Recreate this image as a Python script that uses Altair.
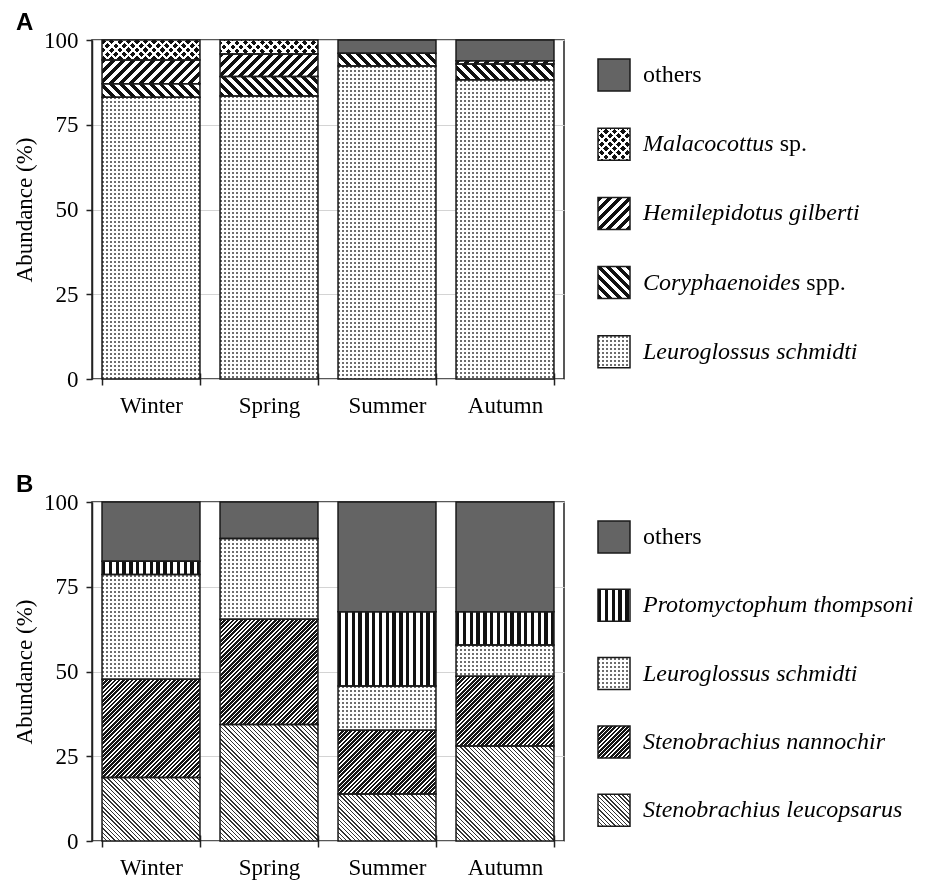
import math
import altair as alt

SERIF = "Liberation Serif"
SANS = "Liberation Sans"

SEASONS = ["Winter", "Spring", "Summer", "Autumn"]

# Panel A – species listed from the bottom of each stack upwards (% abundance)
A_SPECIES = ["Leuroglossus schmidti", "Coryphaenoides spp.", "Hemilepidotus gilberti",
             "Malacocottus sp.", "others"]
A_LEUROGLOSSUS = [83.1, 83.5, 92.3, 88.3]
A_CORYPHAENOIDES = [4.0, 5.7, 3.8, 4.6]
A_HEMILEPIDOTUS = [7.0, 6.7, 0.0, 1.0]
A_MALACOCOTTUS = [5.9, 4.1, 0.0, 0.0]
A_OTHERS = [0.0, 0.0, 3.9, 6.1]
A_VALUES = [A_LEUROGLOSSUS, A_CORYPHAENOIDES, A_HEMILEPIDOTUS, A_MALACOCOTTUS, A_OTHERS]

# Panel B
B_SPECIES = ["Stenobrachius leucopsarus", "Stenobrachius nannochir", "Leuroglossus schmidti",
             "Protomyctophum thompsoni", "others"]
B_LEUCOPSARUS = [18.7, 34.4, 13.9, 28.0]
B_NANNOCHIR = [29.0, 31.0, 18.8, 20.6]
B_LEUROGLOSSUS = [30.9, 23.8, 13.0, 9.2]
B_PROTOMYCTOPHUM = [3.9, 0.0, 21.9, 9.8]
B_OTHERS = [17.5, 10.8, 32.4, 32.4]
B_VALUES = [B_LEUCOPSARUS, B_NANNOCHIR, B_LEUROGLOSSUS, B_PROTOMYCTOPHUM, B_OTHERS]

# geometry of each bar panel
PLOT_W, PLOT_H = 472, 339
PAD_INNER, PAD_OUTER = 0.17, 0.085
STEP = PLOT_W / (len(SEASONS) - PAD_INNER + 2 * PAD_OUTER)
BAR_W = STEP * (1 - PAD_INNER)
PX_PER_PCT = PLOT_H / 100.0
SWATCH = 32
LEGEND_W = 330
TEXT_X = 45

INK = "#111111"
EDGE = "#1a1a1a"

# hatch recipes: a base paint and an optional second paint blended with "lighten"
# (two crossing line sets blended this way leave dots where they intersect)
STYLES = {
    "others": [("solid", "#646464")],
    "Malacocottus sp.": [("fwd", 6.0, 3.8, INK), ("back", 6.0, 3.8, INK)],
    "Hemilepidotus gilberti": [("fwd", 7.0, 3.5, INK)],
    "Coryphaenoides spp.": [("back", 7.0, 3.5, INK)],
    "Leuroglossus schmidti": [("v", 4.0, 2.0, "#6e6e6e"), ("h", 4.0, 2.0, "#6e6e6e")],
    "Protomyctophum thompsoni": [("v", 6.8, 3.4, INK)],
    "Stenobrachius nannochir": [("fwd", 3.0, 1.9, "#161616")],
    "Stenobrachius leucopsarus": [("back", 3.0, 1.0, "#333333")],
}


def paint(spec, w, h):
    """Linear-gradient stripes sized for a w x h pixel box."""
    if spec[0] == "solid":
        return spec[1]
    kind, period, ink, color = spec
    if kind == "v":
        x1, y1, x2, y2, span = 0, 0, 1, 0, w
    elif kind == "h":
        x1, y1, x2, y2, span = 0, 0, 0, 1, h
    else:
        c = (w + h) / (w * w + h * h)
        span = (w + h) / math.sqrt(2)
        if kind == "fwd":
            x1, y1, x2, y2 = 0, 0, c * w, c * h
        else:
            x1, y1, x2, y2 = 0, 1, c * w, 1 - c * h
    stops = []
    k = 0
    while k * period < span:
        a = k * period / span
        b = min((k * period + ink) / span, 1.0)
        e = min((k + 1) * period / span, 1.0)
        stops.append({"offset": round(a, 5), "color": color})
        stops.append({"offset": round(b, 5), "color": color})
        if b < 1.0:
            stops.append({"offset": round(b, 5), "color": "#ffffff"})
            stops.append({"offset": round(e, 5), "color": "#ffffff"})
        k += 1
    return {"gradient": "linear", "x1": round(x1, 5), "y1": round(y1, 5),
            "x2": round(x2, 5), "y2": round(y2, 5), "stops": stops}


def paints(species, w, h):
    recipe = STYLES[species]
    first = paint(recipe[0], w, h)
    second = paint(recipe[1], w, h) if len(recipe) > 1 else None
    return first, second


ITALIC_W = {"a": 500, "b": 500, "c": 444, "d": 500, "e": 444, "f": 278, "g": 500, "h": 500,
            "i": 278, "l": 278, "m": 722, "n": 500, "o": 500, "p": 500, "r": 389, "s": 389,
            "t": 278, "u": 500, "y": 444, " ": 250, "M": 833, "C": 667}


def italic_width(s, size):
    return sum(ITALIC_W.get(ch, 500) for ch in s) / 1000.0 * size


def bar_panel(letter, species, values):
    rows = []
    for rank, (sp, series) in enumerate(zip(species, values)):
        for season, v in zip(SEASONS, series):
            if v <= 0:
                continue
            p1, p2 = paints(sp, BAR_W, v * PX_PER_PCT)
            rows.append({"season": season, "species": sp, "rank": rank, "value": v,
                         "paint": p1, "paint2": p2})

    base = alt.Chart(alt.Data(values=rows)).transform_stack(
        stack="value", groupby=["season"], sort=[alt.SortField("rank", order="ascending")],
        as_=["v0", "v1"])

    x = alt.X("season:N", sort=SEASONS, title=None,
              scale=alt.Scale(paddingInner=PAD_INNER, paddingOuter=PAD_OUTER),
              axis=alt.Axis(labelAngle=0, tickBand="extent", domain=False, offset=-6,
                            tickSize=12, tickWidth=1.5, labelPadding=9, labelFontSize=23))
    y = alt.Y("v0:Q", title="Abundance (%)",
              scale=alt.Scale(domain=[0, 100], nice=False),
              axis=alt.Axis(values=[0, 25, 50, 75, 100], tickSize=6, tickWidth=1.5,
                            domainWidth=1.5, labelPadding=8, labelFontSize=23,
                            titleFontSize=23, titleFontWeight="normal", titlePadding=7,
                            grid=True, gridColor="#d4d4d4", gridWidth=1))
    y2 = alt.Y2("v1:Q")

    fills = base.mark_bar().encode(x=x, y=y, y2=y2,
                                   fill=alt.Fill("paint:N", scale=None, legend=None))
    overlay = base.transform_filter("isValid(datum.paint2)").mark_bar(blend="lighten").encode(
        x=x, y=y, y2=y2, fill=alt.Fill("paint2:N", scale=None, legend=None))
    outline = base.mark_bar(fill="transparent", stroke=EDGE, strokeWidth=1.5).encode(
        x=x, y=y, y2=y2)
    tag = alt.Chart(alt.Data(values=[{"tag": letter}])).mark_text(
        align="left", baseline="alphabetic", font=SANS, fontSize=24, fontWeight="bold",
        color="black").encode(text="tag:N", x=alt.value(-76), y=alt.value(-10))

    return alt.layer(fills, overlay, outline, tag).properties(
        width=PLOT_W, height=PLOT_H,
        view=alt.ViewBackground(stroke="#222222", strokeWidth=1.5))


def band_params(first_center, step, n=5):
    pad_inner = 1 - SWATCH / step
    pad_outer = (PLOT_H / step - n + pad_inner) / 2
    free = PLOT_H - step * (n - pad_inner)
    align = (first_center - SWATCH / 2) / free
    return pad_inner, pad_outer, align


def legend_panel(order, first_center, step):
    pi, po, al = band_params(first_center, step)
    rows = []
    for key in order:
        p1, p2 = paints(key, SWATCH, SWATCH)
        if key == "others":
            ital, rom = "", "others"
        elif key.endswith(" sp.") or key.endswith(" spp."):
            ital, rom = key.rsplit(" ", 1)
        else:
            ital, rom = key, ""
        rows.append({"key": key, "ital": ital, "rom": rom, "paint": p1, "paint2": p2})

    src = alt.Chart(alt.Data(values=rows))
    ly = alt.Y("key:N", sort=order, axis=None,
               scale=alt.Scale(paddingInner=pi, paddingOuter=po, align=al))

    swatch = src.mark_rect().encode(y=ly, x=alt.value(0), x2=alt.value(SWATCH),
                                    fill=alt.Fill("paint:N", scale=None, legend=None))
    swatch2 = src.transform_filter("isValid(datum.paint2)").mark_rect(blend="lighten").encode(
        y=ly, x=alt.value(0), x2=alt.value(SWATCH),
        fill=alt.Fill("paint2:N", scale=None, legend=None))
    frame = src.mark_rect(fill="transparent", stroke=EDGE, strokeWidth=1.5).encode(
        y=ly, x=alt.value(0), x2=alt.value(SWATCH))
    italic = src.transform_filter("datum.ital != ''").mark_text(
        align="left", baseline="middle", font=SERIF, fontSize=24, fontStyle="italic",
        color="black").encode(y=ly, x=alt.value(TEXT_X), text="ital:N")

    layers = [swatch, swatch2, frame, italic]
    for r in rows:
        if not r["rom"]:
            continue
        offset = TEXT_X + (italic_width(r["ital"] + " ", 24) if r["ital"] else 0)
        layers.append(src.transform_filter(alt.datum.key == r["key"]).mark_text(
            align="left", baseline="middle", font=SERIF, fontSize=24,
            color="black").encode(y=ly, x=alt.value(offset), text="rom:N"))

    return alt.layer(*layers).properties(width=LEGEND_W, height=PLOT_H)


panel_a = bar_panel("A", A_SPECIES, A_VALUES)
legend_a = legend_panel(list(reversed(A_SPECIES)), 35, 69.2)
panel_b = bar_panel("B", B_SPECIES, B_VALUES)
legend_b = legend_panel(list(reversed(B_SPECIES)), 35, 68.3)

chart = alt.concat(
    panel_a, legend_a, panel_b, legend_b,
    columns=2, spacing={"row": 123, "column": 34}, bounds="flush",
).properties(
    padding={"left": 12, "top": 10, "right": 2, "bottom": 0},
).configure_view(
    stroke="transparent",
).configure_axis(
    labelFont=SERIF, titleFont=SERIF, labelColor="black", titleColor="black",
    tickColor="#222222", domainColor="#222222",
)

chart.save("out.html", embed_options={"renderer": "svg", "actions": False})
